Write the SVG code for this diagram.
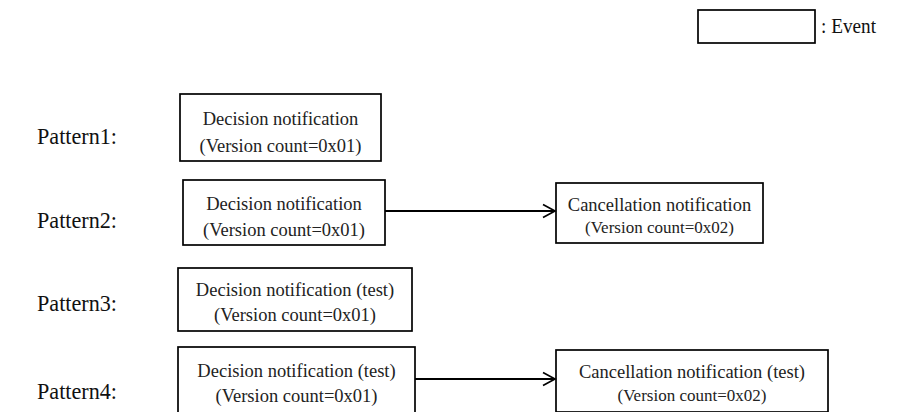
<svg xmlns="http://www.w3.org/2000/svg" width="906" height="412" viewBox="0 0 906 412">
<style>
.box{fill:#fff;stroke:#000;stroke-width:1.7}
.t{font-family:"Liberation Serif","Times New Roman",serif;fill:#222;text-anchor:middle}
.lab{font-family:"Liberation Serif","Times New Roman",serif;fill:#111;font-size:23px}
.m{font-size:18.5px}
.s{font-size:17px}
.conn{stroke:#000;stroke-width:1.8;fill:none}
</style>
<defs>
<marker id="arr" markerWidth="16" markerHeight="16" refX="13" refY="8" orient="auto" markerUnits="userSpaceOnUse">
<path d="M1,1.5 L13,8 L1,14.5" fill="none" stroke="#000" stroke-width="1.7"/>
</marker>
</defs>
<rect width="906" height="412" fill="#fff"/>
<g id="legend">
<rect class="box" x="698" y="10" width="117" height="33"/>
<text class="lab" x="821" y="33" style="font-size:20px" textLength="55" lengthAdjust="spacingAndGlyphs">: Event</text>
</g>
<g id="labels">
<text class="lab" x="37" y="144" textLength="80" lengthAdjust="spacingAndGlyphs">Pattern1:</text>
<text class="lab" x="37" y="228" textLength="80" lengthAdjust="spacingAndGlyphs">Pattern2:</text>
<text class="lab" x="37" y="311" textLength="80" lengthAdjust="spacingAndGlyphs">Pattern3:</text>
<text class="lab" x="37" y="399" textLength="80" lengthAdjust="spacingAndGlyphs">Pattern4:</text>
</g>
<g id="p1-decision">
<rect class="box" x="180" y="94" width="201" height="67"/>
<text class="t m" x="280.5" y="125">Decision notification</text>
<text class="t m" x="280.5" y="152">(Version count=0x01)</text>
</g>
<g id="p2-decision">
<rect class="box" x="183" y="180" width="202" height="65"/>
<text class="t m" x="284" y="210">Decision notification</text>
<text class="t m" x="284" y="236">(Version count=0x01)</text>
</g>
<g id="p2-cancel">
<rect class="box" x="556" y="183" width="207" height="60"/>
<text class="t m" x="659.5" y="211">Cancellation  notification</text>
<text class="t s" x="659.5" y="233">(Version count=0x02)</text>
</g>
<g id="p3-decision">
<rect class="box" x="178" y="268" width="234" height="63"/>
<text class="t m" x="295" y="296">Decision notification  (test)</text>
<text class="t m" x="295" y="321">(Version count=0x01)</text>
</g>
<g id="p4-decision">
<rect class="box" x="178" y="347" width="237" height="70"/>
<text class="t m" x="296.5" y="377">Decision notification  (test)</text>
<text class="t m" x="296.5" y="402">(Version count=0x01)</text>
</g>
<g id="p4-cancel">
<rect class="box" x="556" y="350" width="272" height="62"/>
<text class="t m" x="692" y="378">Cancellation  notification  (test)</text>
<text class="t s" x="692" y="401">(Version count=0x02)</text>
</g>
<g id="connectors">
<line class="conn" x1="385" y1="211" x2="555" y2="211" marker-end="url(#arr)"/>
<line class="conn" x1="415" y1="379" x2="555" y2="379" marker-end="url(#arr)"/>
</g>
</svg>
